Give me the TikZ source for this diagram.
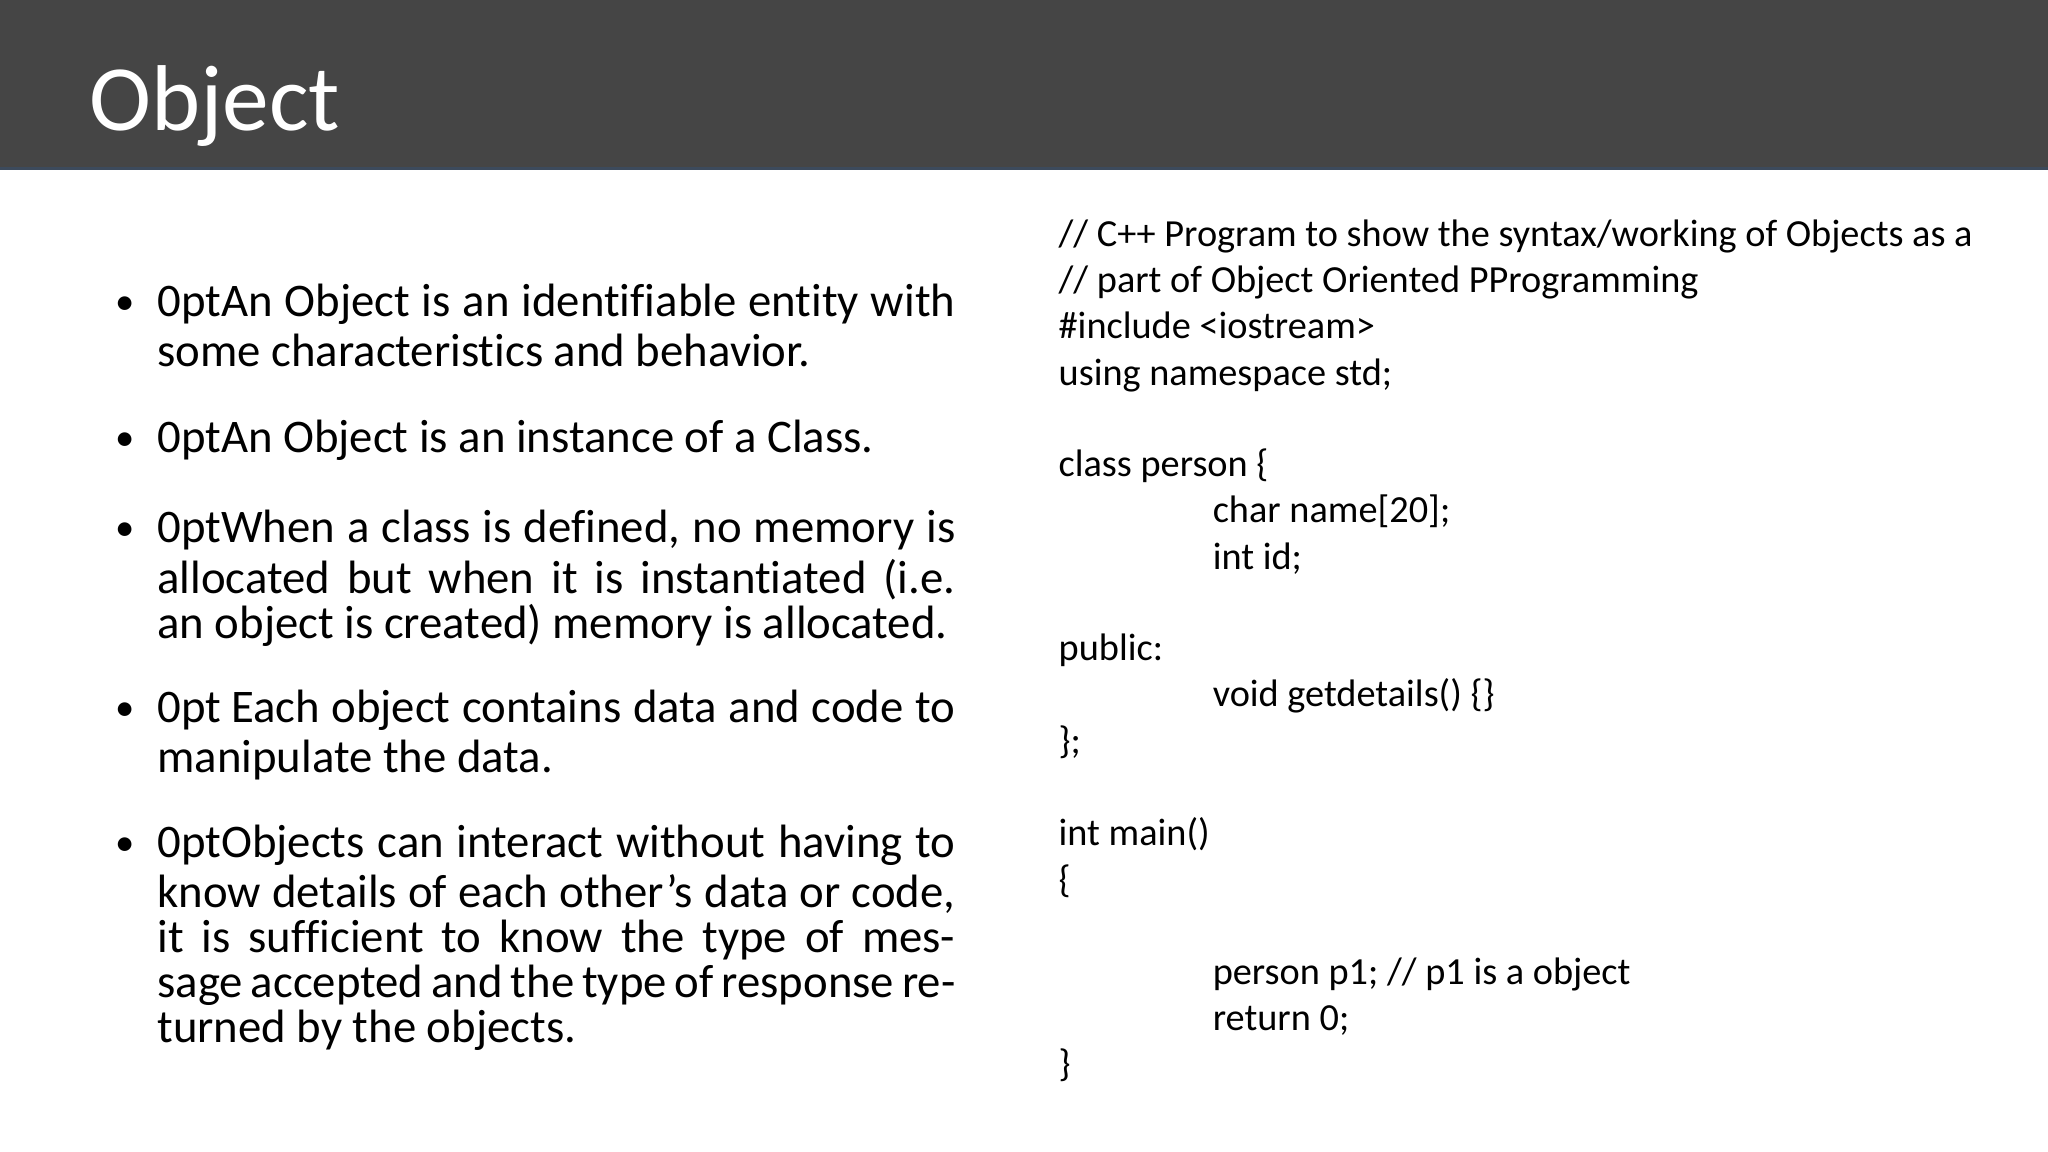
\documentclass[tikz,border=0pt]{standalone}
\usepackage{fontspec}
\setmainfont[Ligatures=NoCommon]{Carlito}
\definecolor{titlebar}{HTML}{454545}
\definecolor{titleedge}{HTML}{3C4A5C}
\tikzset{
  bodytext/.style={anchor=north west, inner sep=0pt, text width=7.98cm, align=justify,
    font=\fontsize{13.3pt}{12.8pt}\selectfont\hyphenpenalty=10000\exhyphenpenalty=10000},
  bulletmark/.style={anchor=base, inner sep=0pt, font=\fontsize{11pt}{12pt}\selectfont},
  codeline/.style={anchor=base west, inner sep=0pt, font=\fontsize{10.9pt}{12pt}\selectfont},
}
\begin{document}
\begin{tikzpicture}[x=0.01306cm, y=-0.01306cm]
      \useasboundingbox (0,0) rectangle (1568,882);
      \fill [white] (0,0) rectangle (1568,882);
      \fill [titlebar] (0,0) rectangle (1568,129);
      \draw [titleedge, line width=1pt] (0,129) -- (1568,129);
      \node [anchor=base west, inner sep=0pt, text=white,
        font=\fontsize{26.6pt}{28pt}\selectfont] (title) at (68,100) {Object};

      % bullets
      \node [bulletmark] (b1) at (96,241) {•};
      \node [bodytext] (p1) at (120,217) {\strut An Object is an identifiable entity with some characteristics and behavior.};
      \node [bulletmark] (b2) at (96,345) {•};
      \node [bodytext] (p2) at (120,321) {\strut An Object is an instance of a Class.};
      \node [bulletmark] (b3) at (96,414) {•};
      \node [bodytext] (p3) at (120,390) {\strut When a class is defined, no memory is allocated but when it is instantiated (i.e. an object is created) memory is allocated.};
      \node [bulletmark] (b4) at (96,552) {•};
      \node [bodytext] (p4) at (120,528) {\strut\hspace{0.1cm}Each object contains data and code to manipulate the data.};
      \node [bulletmark] (b5) at (96,655) {•};
      \node [bodytext] (p5) at (120,631) {\strut Objects can interact without having to know details of each other’s data or code, it is sufficient to know the type of message accepted and the type of response returned by the objects.};

      % code
      \node [codeline] (c1) at (810,189) {// C++ Program to show the syntax/working of Objects as a};
      \node [codeline] (c2) at (810,224) {// part of Object Oriented PProgramming};
      \node [codeline] (c3) at (810,259) {\#include <iostream>};
      \node [codeline] (c4) at (810,295) {using namespace std;};
      \node [codeline] (c5) at (810,365) {class person \{};
      \node [codeline] (c6) at (928,400) {char name[20];};
      \node [codeline] (c7) at (928,436) {int id;};
      \node [codeline] (c8) at (810,506) {public:};
      \node [codeline] (c9) at (928,541) {void getdetails() \{\}};
      \node [codeline] (c10) at (810,577) {\};};
      \node [codeline] (c11) at (810,647) {int main()};
      \node [codeline] (c12) at (810,683) {\{};
      \node [codeline] (c13) at (928,754) {person p1; // p1 is a object};
      \node [codeline] (c14) at (928,789) {return 0;};
      \node [codeline] (c15) at (810,824) {\}};
\end{tikzpicture}
\end{document}
